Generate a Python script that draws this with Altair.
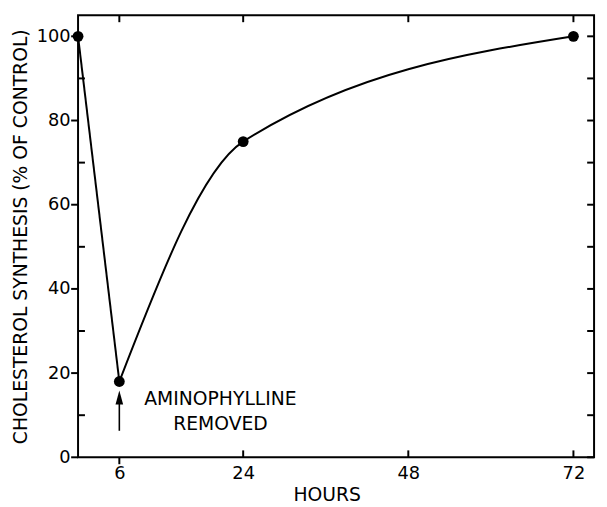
import altair as alt
import pandas as pd

hours = [0, 6, 24, 72]
synthesis = [100, 18, 75, 100]

x_min, x_max = 0, 75
y_min, y_max = 0, 105
x_ticks = [6, 24, 48, 72]
x_inner = [24, 48, 72]
x_outer = [6]
y_major = [0, 20, 40, 60, 80, 100]
y_minor = [10, 30, 50, 70, 90]
y_all = [0, 10, 20, 30, 40, 50, 60, 70, 80, 90, 100]

arrow_x = [6]
arrow_from = [6.3]
arrow_to = [13]
arrow_tip = [14.2]
note_x = [20.7, 20.7]
note_y = [13.8, 7.9]
note_text = ["AMINOPHYLLINE", "REMOVED"]

FONT = "DejaVu Sans"
TICK = 7

pts = pd.DataFrame({"h": hours, "s": synthesis})
drop = pd.DataFrame({"h": hours[:2], "s": synthesis[:2]})
recover = pd.DataFrame({"h": hours[1:], "s": synthesis[1:]})
arrow = pd.DataFrame({"h": arrow_x, "s": arrow_from, "s2": arrow_to})
head = pd.DataFrame({"h": arrow_x, "s": arrow_tip})
notes = pd.DataFrame({"h": note_x, "s": note_y, "t": note_text})

left_out = pd.DataFrame({"h": [x_min] * len(y_major), "s": y_major})
left_in = pd.DataFrame({"h": [x_min] * len(y_minor), "s": y_minor})
right_in = pd.DataFrame({"h": [x_max] * len(y_all), "s": y_all})
top_in = pd.DataFrame({"h": x_ticks, "s": [y_max] * len(x_ticks)})
bottom_in = pd.DataFrame({"h": x_inner, "s": [y_min] * len(x_inner)})
bottom_out = pd.DataFrame({"h": x_outer, "s": [y_min] * len(x_outer)})

xs = alt.Scale(domain=[x_min, x_max], nice=False, zero=False)
ys = alt.Scale(domain=[y_min, y_max], nice=False)

main_x = alt.X("h:Q", scale=xs, axis=alt.Axis(
    values=x_ticks, title="HOURS", domain=False, tickSize=6, tickOpacity=0,
    labelFontSize=18, labelColor="black", labelFont=FONT, labelPadding=1,
    titleFont=FONT, titleFontSize=19, titleFontWeight="normal",
    titleColor="black", titlePadding=4, titleX=252, grid=False))
main_y = alt.Y("s:Q", scale=ys, axis=alt.Axis(
    values=y_major, title="CHOLESTEROL SYNTHESIS (% OF CONTROL)", domain=False,
    tickSize=6, tickOpacity=0, labelFontSize=18, labelColor="black",
    labelFont=FONT, labelPadding=2, titleFont=FONT, titleFontSize=19,
    titleFontWeight="normal", titleColor="black", titlePadding=6, grid=False))

points = alt.Chart(pts).mark_circle(size=120, color="black", opacity=1).encode(
    x=main_x, y=main_y)

line_drop = alt.Chart(drop).mark_line(color="black", strokeWidth=2).encode(
    x=alt.X("h:Q", scale=xs), y=alt.Y("s:Q", scale=ys))

line_rec = alt.Chart(recover).mark_line(
    color="black", strokeWidth=2, interpolate="monotone").encode(
    x=alt.X("h:Q", scale=xs), y=alt.Y("s:Q", scale=ys))


def tick_rules(df, **offsets):
    return alt.Chart(df).mark_rule(color="black", strokeWidth=2, **offsets).encode(
        x=alt.X("h:Q", scale=xs), x2="h:Q",
        y=alt.Y("s:Q", scale=ys), y2="s:Q")


ticks = [
    tick_rules(left_out, x2Offset=-TICK),
    tick_rules(left_in, x2Offset=TICK),
    tick_rules(right_in, x2Offset=-TICK),
    tick_rules(top_in, y2Offset=TICK),
    tick_rules(bottom_in, y2Offset=-TICK),
    tick_rules(bottom_out, y2Offset=TICK),
]

arrow_shaft = alt.Chart(arrow).mark_rule(color="black", strokeWidth=1.6).encode(
    x=alt.X("h:Q", scale=xs),
    y=alt.Y("s:Q", scale=ys),
    y2="s2:Q")

arrow_head = alt.Chart(head).mark_point(
    shape="M0,-1L0.55,1L-0.55,1Z", filled=True, color="black", size=196,
    opacity=1).encode(
    x=alt.X("h:Q", scale=xs),
    y=alt.Y("s:Q", scale=ys))

text = alt.Chart(notes).mark_text(
    font=FONT, fontSize=19, color="black", align="center", baseline="middle").encode(
    x=alt.X("h:Q", scale=xs),
    y=alt.Y("s:Q", scale=ys),
    text="t:N")

chart = alt.layer(points, line_drop, line_rec, *ticks, arrow_shaft, arrow_head, text).properties(
    width=523, height=448,
    autosize=alt.AutoSizeParams(type="none"),
    padding={"left": 71, "top": 4, "right": 5, "bottom": 47},
    background="white",
).configure_view(stroke="black", strokeWidth=2)

chart.save("out.html", embed_options={"renderer": "svg", "actions": False})
